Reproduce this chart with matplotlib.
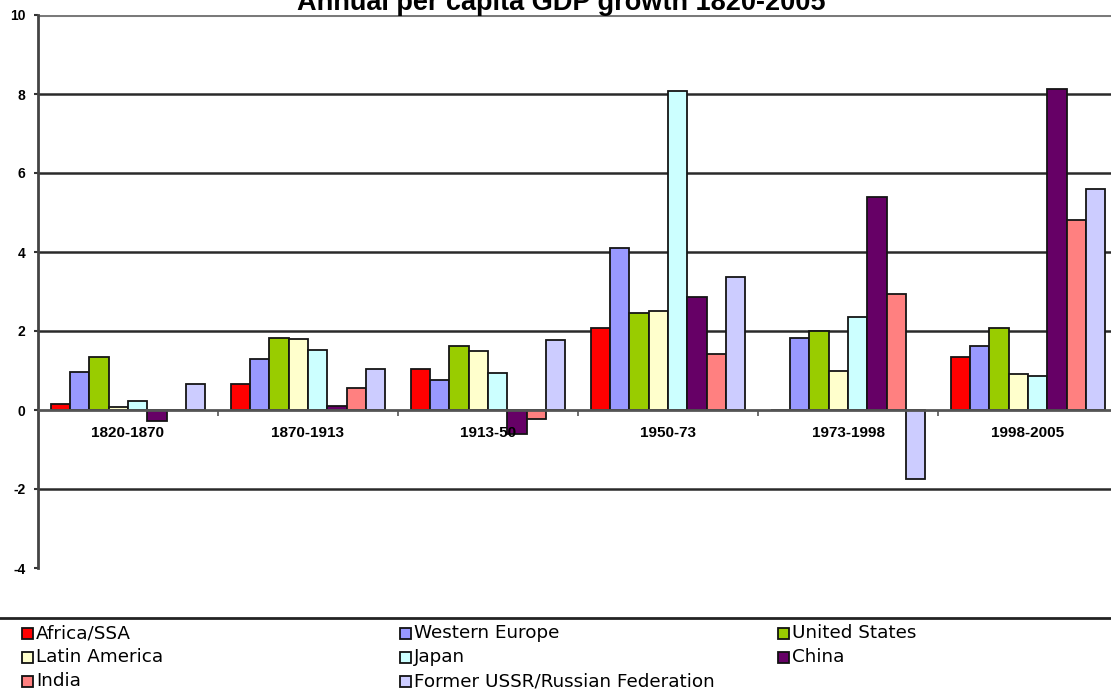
import matplotlib
matplotlib.use('Agg')
import matplotlib.pyplot as plt
from matplotlib.patches import Rectangle
from matplotlib.lines import Line2D
from matplotlib import font_manager
import numpy as np

periods = ['1820-1870', '1870-1913', '1913-50', '1950-73', '1973-1998', '1998-2005']
series_names = ['Africa/SSA', 'Western Europe', 'United States', 'Latin America',
                'Japan', 'China', 'India', 'Former USSR/Russian Federation']
africa = [0.15, 0.67, 1.03, 2.07, 0.01, 1.34]
western_europe = [0.95, 1.29, 0.76, 4.09, 1.82, 1.62]
united_states = [1.34, 1.82, 1.61, 2.45, 1.99, 2.07]
latin_america = [0.07, 1.81, 1.49, 2.50, 0.99, 0.90]
japan = [0.22, 1.51, 0.93, 8.07, 2.35, 0.87]
china = [-0.27, 0.10, -0.62, 2.86, 5.40, 8.13]
india = [0.00, 0.55, -0.22, 1.43, 2.93, 4.82]
ussr = [0.65, 1.04, 1.76, 3.36, -1.74, 5.60]
colors = ['#FF0000', '#9999FF', '#99CC00', '#FFFFCC',
          '#CCFFFF', '#660066', '#FF8080', '#CCCCFF']
y_ticks = [-4, -2, 0, 2, 4, 6, 8, 10]
title = 'Annual per capita GDP growth 1820-2005'

series = [africa, western_europe, united_states, latin_america,
          japan, china, india, ussr]

installed = {f.name for f in font_manager.fontManager.ttflist}
narrow = 'Liberation Sans Narrow' if 'Liberation Sans Narrow' in installed else 'Liberation Sans'
narrow_sz = 13 if narrow == 'Liberation Sans Narrow' else 11

W, H = 1111, 691
fig = plt.figure(figsize=(W / 100, H / 100), dpi=100)
ax = fig.add_axes([38 / W, 1 - 568 / H, 1080 / W, (568 - 15) / H])

x = np.arange(len(periods))
bw = 0.1075
for j, (vals, col) in enumerate(zip(series, colors)):
    ax.bar(x + (j - 3.5) * bw, vals, width=bw, color=col,
           edgecolor='#151515', linewidth=1.3, zorder=3)

ax.set_xlim(-0.5, len(periods) - 0.5)
ax.set_ylim(y_ticks[0], y_ticks[-1])

# horizontal gridlines
for yv in y_ticks:
    if yv in (0, y_ticks[0]):
        continue
    if yv == y_ticks[-1]:
        ax.axhline(yv, color='#7a7a7a', lw=2.2, zorder=1)
    else:
        ax.axhline(yv, color='#2a2a2a', lw=1.8, zorder=1)
ax.axhline(0, color='#555555', lw=2.0, zorder=4)
ax.vlines(x[:-1] + 0.5, -0.15, 0, color='#555555', lw=1.2, zorder=4)

for s in ['top', 'right', 'bottom']:
    ax.spines[s].set_visible(False)
ax.spines['left'].set_color('#444444')
ax.spines['left'].set_linewidth(2)

ax.set_yticks(y_ticks)
ax.set_yticklabels([str(v) for v in y_ticks], fontfamily=narrow,
                   fontweight='bold', fontsize=narrow_sz - 1)
ax.tick_params(axis='y', length=3, width=1.5, color='#333333', pad=6)
ax.set_xticks([])

for xi, lab in zip(x, periods):
    ax.text(xi, -0.57, lab, ha='center', va='center', fontfamily=narrow,
            fontweight='bold', fontsize=narrow_sz)

fig.text(0.505, 1 - 10 / H, title, ha='center', va='baseline',
         fontsize=19.5, fontweight='bold', family='Liberation Sans')

# legend area
fig.add_artist(Line2D([0, 1], [1 - 618 / H, 1 - 618 / H], color='#222222', lw=2,
                      transform=fig.transFigure))
col_x = [22, 400, 778]
row_y = [633, 657, 681]
for k, (name, col) in enumerate(zip(series_names, colors)):
    r, c = divmod(k, 3)
    x0 = col_x[c]
    yc = row_y[r]
    fig.add_artist(Rectangle((x0 / W, 1 - (yc + 5.5) / H), 11 / W, 11 / H,
                             facecolor=col, edgecolor='#111111', lw=1.3,
                             transform=fig.transFigure))
    fig.text((x0 + 14) / W, 1 - yc / H, name, ha='left', va='center',
             fontsize=13.2, family='DejaVu Sans')

fig.savefig('out.png', dpi=100)
